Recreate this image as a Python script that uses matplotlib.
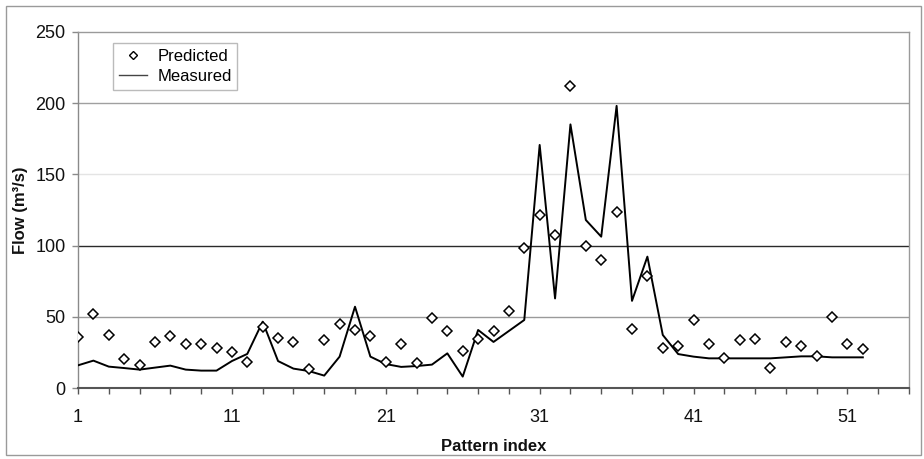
import matplotlib
matplotlib.use("Agg")
import matplotlib.pyplot as plt
from matplotlib.patches import Rectangle
from matplotlib.lines import Line2D
import numpy as np

plt.rcParams['font.family'] = ['Liberation Sans', 'DejaVu Sans']

# ---- data ----
pattern_index = list(range(1, 53))
predicted = [35.8, 51.9, 37.2, 20.8, 16.3, 32.5, 36.5, 31.3, 31.0, 28.0,
             25.7, 18.7, 43.0, 35.3, 32.5, 13.3, 33.9, 45.1, 40.9, 36.9,
             18.4, 30.8, 17.7, 49.3, 40.2, 26.4, 34.3, 40.2, 54.4, 98.6,
             121.7, 107.3, 212.2, 100.0, 90.0, 123.8, 41.4, 78.8, 28.0, 29.9,
             47.9, 31.3, 21.5, 34.1, 34.6, 14.0, 32.5, 29.4, 22.4, 50.0,
             30.8, 27.8]
measured = [16.1, 19.4, 15.2, 14.2, 13.1, 14.5, 15.9, 13.1, 12.4, 12.4,
            19.1, 24.1, 46.7, 19.1, 13.8, 12.1, 8.9, 22.2, 57.2, 22.2,
            17.0, 15.0, 15.6, 16.6, 24.5, 8.2, 40.9, 32.5, 40.2, 47.9,
            170.6, 63.0, 185.0, 118.0, 106.3, 198.0, 61.3, 92.3, 37.4, 24.0,
            22.2, 21.0, 21.0, 21.0, 21.0, 21.0, 21.7, 22.4, 22.4, 21.7,
            21.7, 21.7]
xtick_labels = ['1', '11', '21', '31', '41', '51']
ytick_values = [0, 50, 100, 150, 200, 250]
series_names = ['Predicted', 'Measured']
x_label = 'Pattern index'
y_label = 'Flow (m³/s)'

W, H = 924, 459
fig = plt.figure(figsize=(W / 100, H / 100), dpi=100)
fig.patch.set_facecolor('white')

# outer chart border
fig.patches.append(Rectangle((6 / W, 4 / H), 915 / W, 449 / H, transform=fig.transFigure,
                             fill=False, edgecolor='#9a9a9a', linewidth=1.0))

left, right, top, bottom = 78, 909, 31.7, 388.3
ax = fig.add_axes([left / W, 1 - bottom / H, (right - left) / W, (bottom - top) / H])

ax.set_xlim(1, 55)
ax.set_ylim(0, 250)

# gridlines with varying tone as in the reference
grid_colors = {50: '#9a9a9a', 100: '#2a2a2a', 150: '#e4e4e4', 200: '#a0a0a0'}
for v, c in grid_colors.items():
    ax.axhline(v, color=c, linewidth=1.0, zorder=1)

ax.plot(pattern_index, measured, color='black', linewidth=1.4, zorder=3)
ax.plot(pattern_index, predicted, linestyle='none', marker='D', markersize=4.8,
        markerfacecolor='white', markeredgecolor='black', markeredgewidth=1.1, zorder=4)

# spines
ax.spines['top'].set_color('#9a9a9a')
ax.spines['right'].set_color('#9a9a9a')
ax.spines['left'].set_color('#8a8a8a')
ax.spines['bottom'].set_color('#555555')
ax.spines['bottom'].set_linewidth(1.5)
for s in ['top', 'right', 'left']:
    ax.spines[s].set_linewidth(1.0)

# ticks
xt = list(range(1, 56, 2))
ax.set_xticks(xt)
lab_map = {int(l): l for l in xtick_labels}
ax.set_xticklabels([lab_map.get(v, '') for v in xt])
ax.set_yticks(ytick_values)
ax.set_yticklabels([str(v) for v in ytick_values])
ax.tick_params(axis='x', direction='out', length=4, width=1.0, color='#555555',
               labelsize=13, pad=11, labelcolor='#111111')
ax.tick_params(axis='y', direction='out', length=4, width=1.0, color='#8a8a8a',
               labelsize=13, pad=5, labelcolor='#111111')

ax.set_xlabel(x_label, fontsize=12, fontweight='bold', labelpad=9, color='#111111')
ax.set_ylabel(y_label, fontsize=12, fontweight='bold', labelpad=5, color='#111111')

# legend
handles = [Line2D([], [], linestyle='none', marker='D', markersize=4.0,
                  markerfacecolor='white', markeredgecolor='black', markeredgewidth=1.0),
           Line2D([], [], color='#444444', linewidth=1.0)]
leg = ax.legend(handles, series_names, loc='upper left',
                bbox_to_anchor=((113 - left) / (right - left), 1 - (43 - top) / (bottom - top)),
                fontsize=12, frameon=True, fancybox=False, edgecolor='#aaaaaa',
                handlelength=1.7, handletextpad=0.6, borderpad=0.35, labelspacing=0.3,
                borderaxespad=0)
leg.get_frame().set_linewidth(1.0)

fig.savefig('out.png', dpi=100, facecolor='white')
